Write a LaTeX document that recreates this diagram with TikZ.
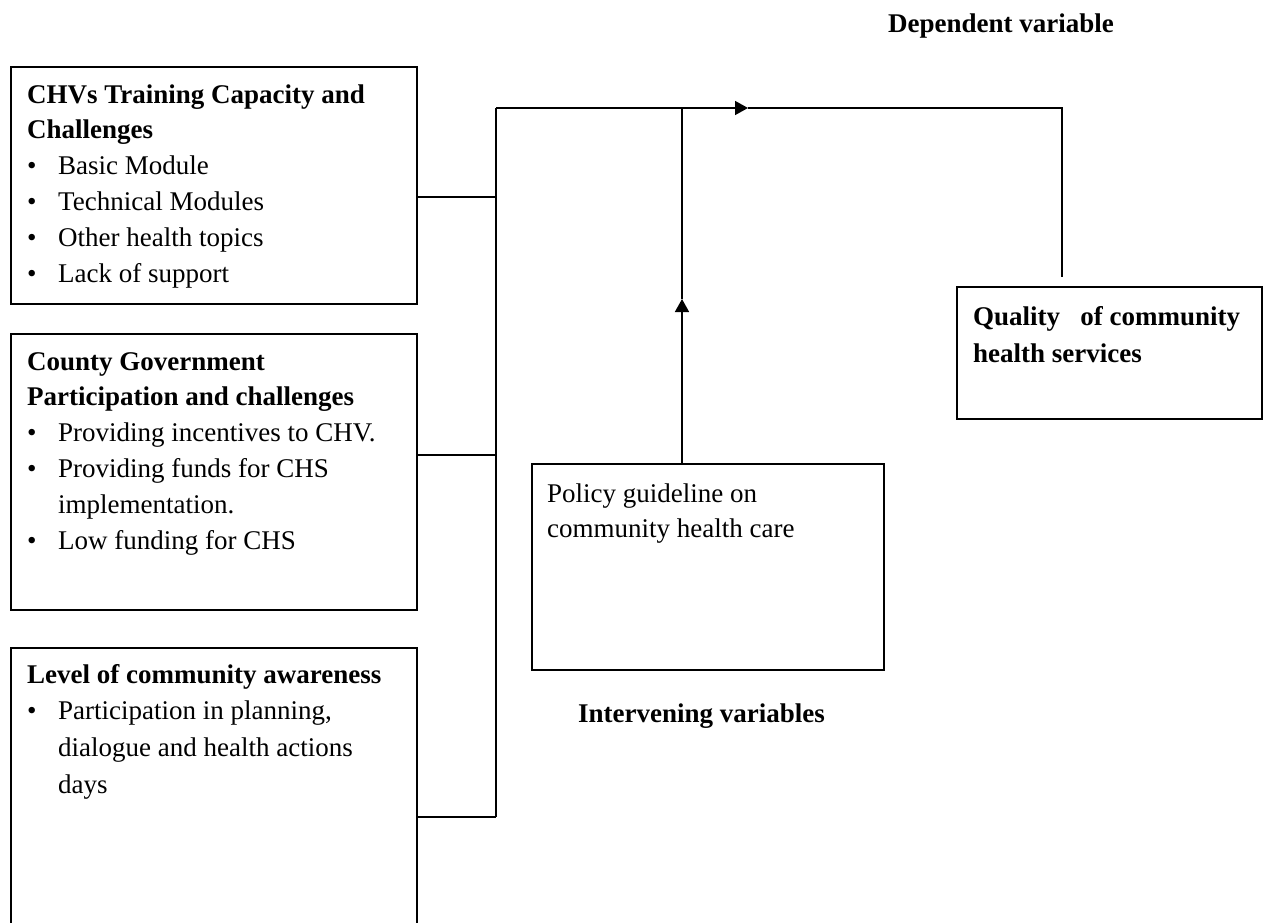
\documentclass[tikz,border=0pt]{standalone}
\usepackage{fontspec}
\setmainfont{Liberation Serif}
\usetikzlibrary{arrows.meta}
\newcommand{\bitem}[1]{\par\noindent\hangindent=31pt\hangafter=1\makebox[31pt][l]{\textbullet}#1\par}

\begin{document}
\begin{tikzpicture}[x=1pt,y=-1pt,
  every node/.style={font=\fontsize{27pt}{35.8pt}\selectfont, inner sep=0pt},
  box/.style={draw, line width=1.8pt, anchor=north west},
  txt/.style={anchor=base west, align=flush left},
  line/.style={line width=1.6pt},
  tip/.style={-{Triangle[length=13pt,width=14pt]}}]
\useasboundingbox (0,0) rectangle (1264,922);
\clip (0,0) rectangle (1264,922);

\node [box, minimum width=406pt, minimum height=237pt] (chv) at (10,66) {};
\node [box, minimum width=406pt, minimum height=276pt] (county) at (10,333) {};
\node [box, minimum width=406pt, minimum height=292pt] (aware) at (10,647) {};
\node [box, minimum width=352pt, minimum height=206pt] (policy) at (531,463) {};
\node [box, minimum width=305pt, minimum height=132pt] (quality) at (956,286) {};

\node [txt, text width=385pt] (chvtxt) at (27,103) {\textbf{CHVs Training Capacity and\newline Challenges}
  \bitem{Basic Module}
  \bitem{Technical Modules}
  \bitem{Other health topics}
  \bitem{Lack of support}};
\node [txt, text width=385pt] (countytxt) at (27,370) {\textbf{County Government\newline Participation and challenges}
  \bitem{Providing incentives to CHV.}
  \bitem{Providing funds for CHS\newline implementation.}
  \bitem{Low funding for CHS}};
\node [txt, text width=385pt, font=\fontsize{27pt}{36.7pt}\selectfont] (awaretxt) at (27,683) {\textbf{Level of community awareness}
  \bitem{Participation in planning,\newline dialogue and health actions\newline days}};
\node [txt, text width=320pt] (policytxt) at (547,502) {Policy guideline on\newline community health care};
\node [txt, text width=285pt, font=\fontsize{27pt}{37pt}\selectfont] (qualitytxt) at (973,325) {\textbf{Quality~~~of community\newline health services}};

\node [txt] (dep) at (888,32) {\textbf{Dependent variable}};
\node [txt] (interv) at (578,722) {\textbf{Intervening variables}};

\coordinate (j1) at (496,197);
\coordinate (j2) at (496,455);
\coordinate (j3) at (496,817);
\coordinate (top) at (496,108);
\coordinate (mid) at (748,108);
\coordinate (corner) at (1062,108);
\coordinate (qend) at (1062,277);
\coordinate (meet) at (682,108);
\coordinate (up) at (682,299);

\draw [line] (chv.east |- j1) -- (j1);
\draw [line] (county.east |- j2) -- (j2);
\draw [line] (aware.east |- j3) -- (j3);
\draw [line] (top) -- (j3);
\draw [line, tip] (top) -- (mid);
\draw [line] (mid) -- (corner) -- (qend);
\draw [line, tip] (policy.north -| up) -- (up);
\draw [line] (up) -- (meet);

\end{tikzpicture}
\end{document}
